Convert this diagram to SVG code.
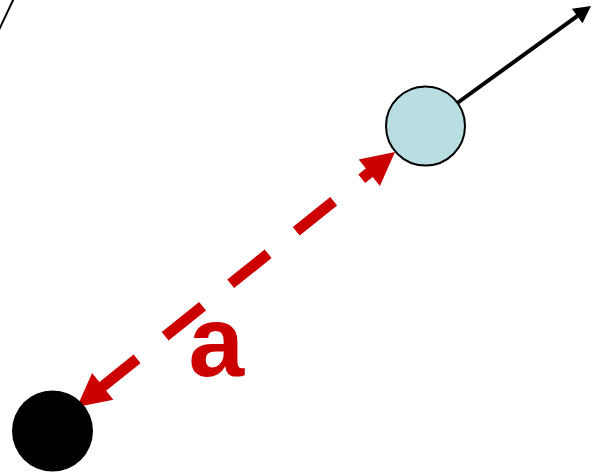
<svg xmlns="http://www.w3.org/2000/svg" width="595" height="476" viewBox="0 0 595 476">
  <style>
    .red { fill: #CC0000; }
    .redline { stroke: #CC0000; stroke-width: 11; fill: none; stroke-linecap: butt; }
    .blk { stroke: #000; fill: none; }
    .lbl { font-family: "Liberation Sans", Arial, sans-serif; font-weight: bold; font-size: 100px; fill: #CC0000; }
  </style>
  <rect width="595" height="476" fill="#FFFFFF"/>
  <g id="edge-line">
    <line class="blk" x1="-2" y1="32" x2="15" y2="-4" stroke-width="2"/>
  </g>
  <g id="connectors">
    <line class="redline" x1="92.6" y1="394.5" x2="381.3" y2="163.0" stroke-dasharray="57 36 48 36 48 36 48 36 48"/>
    <polygon class="red" points="77,407 113.3,399.7 92.1,373.1"/>
    <polygon class="red" points="395,152 379.9,186.0 358.7,159.4"/>
    <line class="blk" x1="458" y1="102.5" x2="581.3" y2="13.1" stroke-width="4"/>
    <polygon points="591,6 582.5,23.3 571.9,8.7" fill="#000"/>
  </g>
  <g id="node-blue">
    <circle cx="425.5" cy="126" r="39.5" fill="#B8DEE2" stroke="#000" stroke-width="2"/>
  </g>
  <g id="node-black">
    <circle cx="52.5" cy="431" r="40.5" fill="#000"/>
  </g>
  <g id="label-a">
    <text class="lbl" x="188.5" y="376">a</text>
  </g>
</svg>
